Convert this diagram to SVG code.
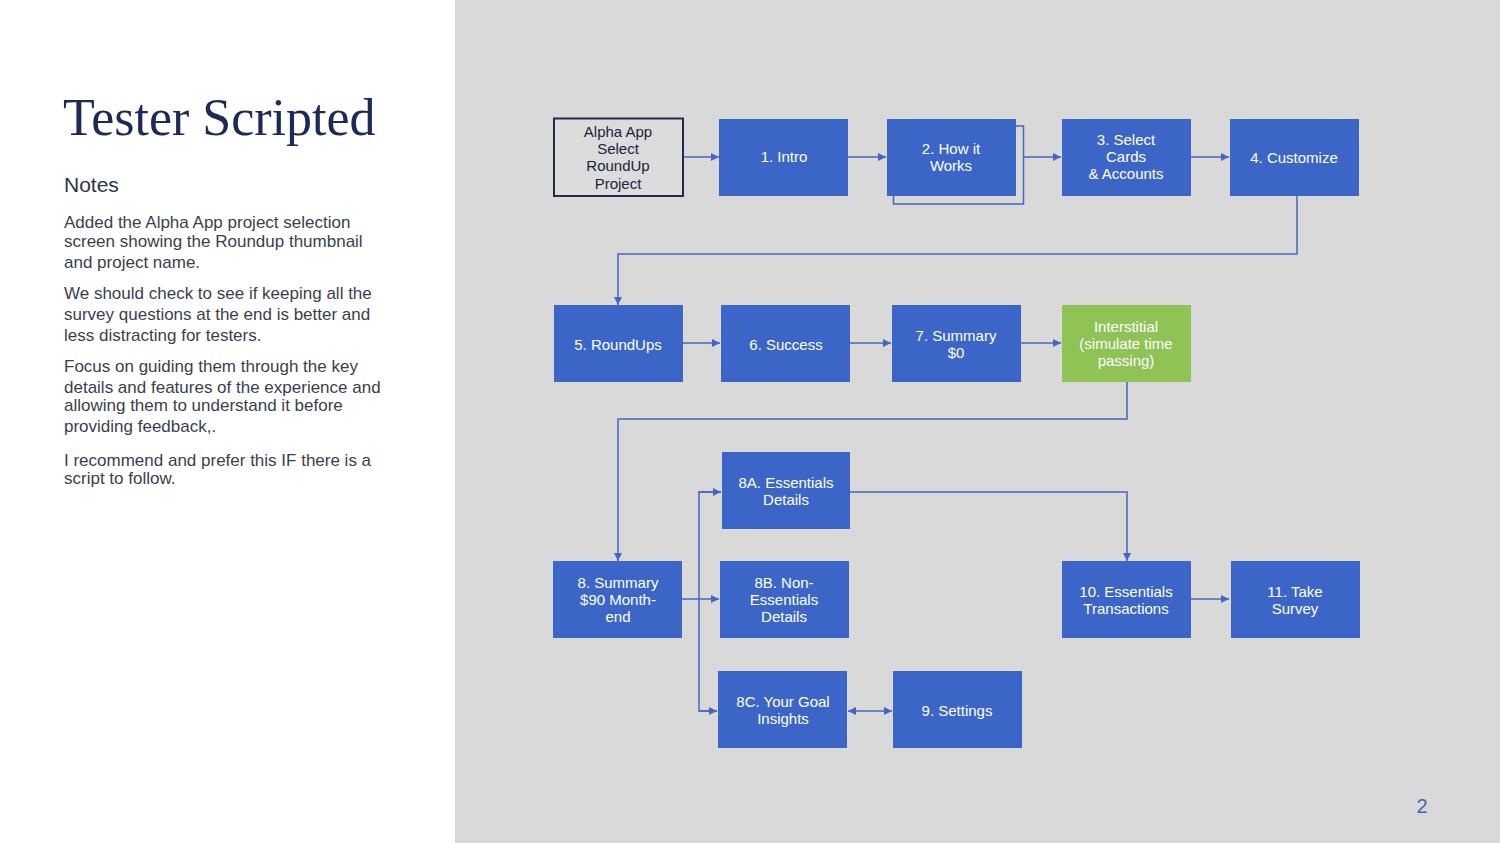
<svg xmlns="http://www.w3.org/2000/svg" width="1500" height="843" viewBox="0 0 1500 843">
<defs>
<style>
.box{fill:#3b66c8;}
.bt{font-family:"Liberation Sans",Arial,sans-serif;font-size:15px;fill:#ffffff;text-anchor:middle;}
.dt{font-family:"Liberation Sans",Arial,sans-serif;font-size:15px;fill:#1a2340;text-anchor:middle;}
.ln{fill:none;stroke:#4466c0;stroke-width:1.5;}
.body{font-family:"Liberation Sans",Arial,sans-serif;font-size:17px;fill:#3a3f4e;}
</style>
<marker id="ah" viewBox="0 0 10 10" refX="10" refY="5" markerWidth="9" markerHeight="8" markerUnits="userSpaceOnUse" orient="auto-start-reverse">
<path d="M0,0 L10,5 L0,10 Z" fill="#4466c0"/>
</marker>
</defs>
<rect x="0" y="0" width="1500" height="843" fill="#ffffff"/>
<rect x="455" y="0" width="1045" height="843" fill="#d9d9d9"/>

<g id="notes">
<text x="63" y="135" font-family="'Liberation Serif','Times New Roman',serif" font-size="52" fill="#1c2a55">Tester Scripted</text>
<text x="64" y="192" font-family="'Liberation Sans',Arial,sans-serif" font-size="21" fill="#2e3445">Notes</text>
<text class="body" x="64" y="228">Added the Alpha App project selection</text>
<text class="body" x="64" y="247">screen showing the Roundup thumbnail</text>
<text class="body" x="64" y="268">and project name.</text>
<text class="body" x="64" y="299">We should check to see if keeping all the</text>
<text class="body" x="64" y="320">survey questions at the end is better and</text>
<text class="body" x="64" y="341">less distracting for testers.</text>
<text class="body" x="64" y="372">Focus on guiding them through the key</text>
<text class="body" x="64" y="393">details and features of the experience and</text>
<text class="body" x="64" y="411">allowing them to understand it before</text>
<text class="body" x="64" y="432">providing feedback,.</text>
<text class="body" x="64" y="466">I recommend and prefer this IF there is a</text>
<text class="body" x="64" y="484">script to follow.</text>
</g>
<text x="1422" y="813" font-family="'Liberation Sans',Arial,sans-serif" font-size="20" fill="#4a63b0" text-anchor="middle">2</text>

<g id="connectors">
<line class="ln" x1="683" y1="157" x2="719" y2="157" marker-end="url(#ah)"/>
<line class="ln" x1="848" y1="157" x2="886" y2="157" marker-end="url(#ah)"/>
<line class="ln" x1="1024" y1="157" x2="1061" y2="157" marker-end="url(#ah)"/>
<line class="ln" x1="1191" y1="157" x2="1229" y2="157" marker-end="url(#ah)"/>
<polyline class="ln" points="1297,196 1297,254 618,254 618,305" marker-end="url(#ah)"/>
<line class="ln" x1="683" y1="343" x2="720" y2="343" marker-end="url(#ah)"/>
<line class="ln" x1="850" y1="343" x2="891" y2="343" marker-end="url(#ah)"/>
<line class="ln" x1="1021" y1="343" x2="1061" y2="343" marker-end="url(#ah)"/>
<polyline class="ln" points="1127,382 1127,419 618,419 618,561" marker-end="url(#ah)"/>
<line class="ln" x1="682" y1="599" x2="719" y2="599" marker-end="url(#ah)"/>
<polyline class="ln" points="721,492 699,492 699,711 717,711"/>
<line class="ln" x1="699" y1="492" x2="721" y2="492" marker-end="url(#ah)"/>
<line class="ln" x1="699" y1="711" x2="717" y2="711" marker-end="url(#ah)"/>
<polyline class="ln" points="850,492 1127,492 1127,561" marker-end="url(#ah)"/>
<line class="ln" x1="848" y1="711" x2="892" y2="711" marker-start="url(#ah)" marker-end="url(#ah)"/>
<line class="ln" x1="1191" y1="599" x2="1229" y2="599" marker-end="url(#ah)"/>
</g>

<g id="n0">
<rect x="554" y="118.5" width="129" height="77.5" fill="#dcdcdc" stroke="#1f2b4d" stroke-width="2"/>
<text class="dt" x="618" y="137">Alpha App</text>
<text class="dt" x="618" y="154">Select</text>
<text class="dt" x="618" y="171">RoundUp</text>
<text class="dt" x="618" y="189">Project</text>
</g>
<g id="n1">
<rect class="box" x="719" y="119" width="129" height="77"/>
<text class="bt" x="784" y="162">1. Intro</text>
</g>
<g id="n2">
<rect x="893.5" y="126" width="130" height="78" fill="none" stroke="#4466c0" stroke-width="1.5"/>
<rect class="box" x="887" y="119" width="129" height="77"/>
<text class="bt" x="951" y="154">2. How it</text>
<text class="bt" x="951" y="171">Works</text>
</g>
<g id="n3">
<rect class="box" x="1062" y="119" width="129" height="77"/>
<text class="bt" x="1126" y="145">3. Select</text>
<text class="bt" x="1126" y="162">Cards</text>
<text class="bt" x="1126" y="179">&amp; Accounts</text>
</g>
<g id="n4">
<rect class="box" x="1230" y="119" width="129" height="77"/>
<text class="bt" x="1294" y="163">4. Customize</text>
</g>
<g id="n5">
<rect class="box" x="554" y="305" width="129" height="77"/>
<text class="bt" x="618" y="350">5. RoundUps</text>
</g>
<g id="n6">
<rect class="box" x="721" y="305" width="129" height="77"/>
<text class="bt" x="786" y="350">6. Success</text>
</g>
<g id="n7">
<rect class="box" x="892" y="305" width="129" height="77"/>
<text class="bt" x="956" y="341">7. Summary</text>
<text class="bt" x="956" y="358">$0</text>
</g>
<g id="interstitial">
<rect x="1062" y="305" width="129" height="77" fill="#8fc356"/>
<text class="bt" x="1126" y="332">Interstitial</text>
<text class="bt" x="1126" y="349">(simulate time</text>
<text class="bt" x="1126" y="366">passing)</text>
</g>
<g id="n8a">
<rect class="box" x="722" y="452" width="128" height="77"/>
<text class="bt" x="786" y="488">8A. Essentials</text>
<text class="bt" x="786" y="505">Details</text>
</g>
<g id="n8">
<rect class="box" x="553" y="561" width="129" height="77"/>
<text class="bt" x="618" y="588">8. Summary</text>
<text class="bt" x="618" y="605">$90 Month-</text>
<text class="bt" x="618" y="622">end</text>
</g>
<g id="n8b">
<rect class="box" x="720" y="561" width="129" height="77"/>
<text class="bt" x="784" y="588">8B. Non-</text>
<text class="bt" x="784" y="605">Essentials</text>
<text class="bt" x="784" y="622">Details</text>
</g>
<g id="n8c">
<rect class="box" x="718" y="671" width="129" height="77"/>
<text class="bt" x="783" y="707">8C. Your Goal</text>
<text class="bt" x="783" y="724">Insights</text>
</g>
<g id="n9">
<rect class="box" x="893" y="671" width="129" height="77"/>
<text class="bt" x="957" y="716">9. Settings</text>
</g>
<g id="n10">
<rect class="box" x="1062" y="561" width="129" height="77"/>
<text class="bt" x="1126" y="597">10. Essentials</text>
<text class="bt" x="1126" y="614">Transactions</text>
</g>
<g id="n11">
<rect class="box" x="1231" y="561" width="129" height="77"/>
<text class="bt" x="1295" y="597">11. Take</text>
<text class="bt" x="1295" y="614">Survey</text>
</g>
</svg>
